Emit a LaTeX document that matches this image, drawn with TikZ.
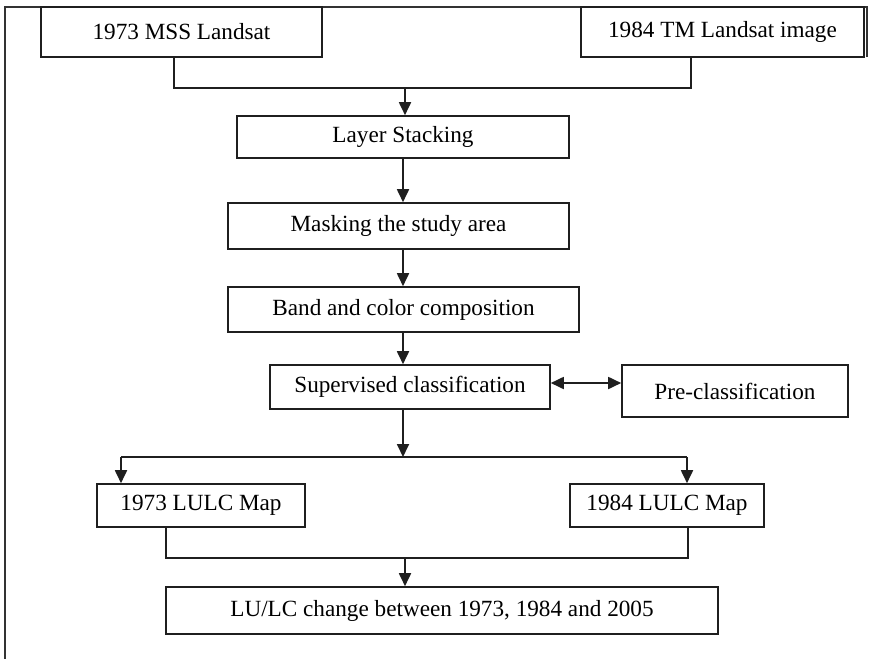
\documentclass[tikz,border=0pt]{standalone}
\usepackage{fontspec}
\setmainfont{Liberation Serif}
\usetikzlibrary{arrows.meta}
\begin{document}
\begin{tikzpicture}[x=0.5pt,y=-0.5pt,
  every node/.style={font=\fontsize{11.6}{14}\selectfont},
  box/.style={draw=black!88,line width=0.8pt,rectangle,inner sep=0pt},
  link/.style={draw=black!88,line width=0.9pt},
  tip/.style={Triangle[length=6.5pt,width=6pt]},
  arr/.style={link,-{Triangle[length=6.5pt,width=6pt]}},
  darr/.style={link,{Triangle[length=6.5pt,width=6pt]}-{Triangle[length=6.5pt,width=6pt]}}]
\useasboundingbox (0,0) rectangle (869,659);
% outer frame
\draw[black!80,line width=0.9pt] (5,659) -- (5,7) -- (867,7) -- (867,57);
% boxes
\node[box,minimum width=140.5pt,minimum height=25pt] (m73) at (181.5,32) {1973 MSS Landsat};
\node[box,minimum width=141.5pt,minimum height=25pt] (t84) at (722.5,32) {1984 TM Landsat image};
\node[box,minimum width=166pt,minimum height=21pt] (layer) at (403,137) {Layer Stacking};
\node[box,minimum width=170.5pt,minimum height=23pt] (mask) at (398.5,226) {Masking the study area};
\node[box,minimum width=175.5pt,minimum height=22.5pt] (band) at (403.5,309.5) {Band and color composition};
\node[box,minimum width=140pt,minimum height=22pt] (sup) at (410,387) {Supervised classification};
\node[box,minimum width=113pt,minimum height=26pt] (pre) at (735,391) {Pre-classification};
\node[box,minimum width=104pt,minimum height=21.5pt] (l73) at (201,505.5) {1973 LULC Map};
\node[box,minimum width=97pt,minimum height=21.5pt] (l84) at (667,505.5) {1984 LULC Map};
\node[box,minimum width=276pt,minimum height=23.5pt] (chg) at (442,610.5) {LU/LC change between 1973, 1984 and 2005};
% junction points
\coordinate (j1) at (405,88);
\coordinate (j2) at (403,457);
\coordinate (j3) at (405,558);
% merge of the two Landsat inputs
\draw[link] (174,0 |- m73.south) -- (174,88) -- (691,88) -- (691,0 |- t84.south);
\draw[arr] (j1) -- (j1 |- layer.north);
% processing chain
\draw[arr] (403,0 |- layer.south) -- (403,0 |- mask.north);
\draw[arr] (403,0 |- mask.south) -- (403,0 |- band.north);
\draw[arr] (403,0 |- band.south) -- (403,0 |- sup.north);
\draw[darr] (sup.east |- 0,383) -- (pre.west |- 0,383);
% split into the two maps
\draw[arr] (403,0 |- sup.south) -- (j2);
\draw[link] (121,457) -- (687,457);
\draw[arr] (121,457) -- (121,0 |- l73.north);
\draw[arr] (687,457) -- (687,0 |- l84.north);
% merge into change analysis
\draw[link] (166,0 |- l73.south) -- (166,558) -- (688,558) -- (688,0 |- l84.south);
\draw[arr] (j3) -- (j3 |- chg.north);
\end{tikzpicture}
\end{document}
